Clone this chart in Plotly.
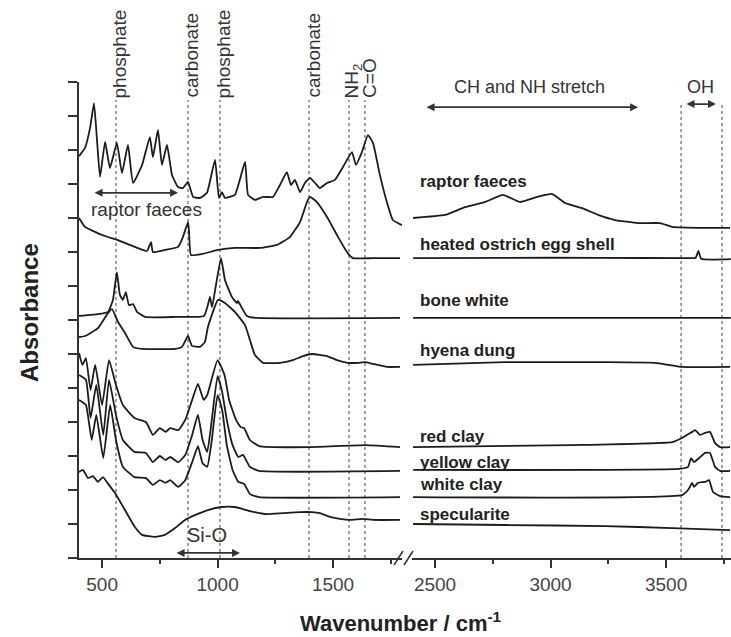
import plotly.graph_objects as go

# ---------------- data ----------------
raptor_l_wn = [400, 426, 448, 465, 478, 491, 513, 534, 564, 586, 612, 634, 673, 707, 720, 742, 759, 781, 803, 829,
               850, 872, 894, 924, 954, 989, 1006, 1019, 1032, 1075, 1119, 1132, 1162, 1197, 1240, 1270, 1300, 1318,
               1335, 1357, 1378, 1400, 1422, 1443, 1474, 1508, 1543, 1582, 1599, 1625, 1651, 1673, 1703, 1733, 1759, 1798]
raptor_l_abs = [11.82, 12.06, 12.65, 13.38, 12.29, 11.21, 12.24, 11.47, 12.21, 11.32, 12.15, 11.03, 11.56, 12.38, 11.79,
                12.59, 11.56, 12.15, 11.26, 10.91, 10.88, 11.06, 10.62, 10.59, 10.74, 11.71, 10.59, 10.76, 10.59, 10.68,
                11.65, 10.68, 10.53, 10.62, 10.62, 10.97, 11.35, 10.97, 11.12, 10.76, 11.03, 11.18, 11.03, 10.88, 11.03,
                11.12, 11.50, 11.94, 11.56, 11.94, 12.44, 12.21, 11.26, 10.47, 9.94, 9.79]
raptor_r_wn = [2405, 2543, 2630, 2716, 2794, 2868, 2942, 3006, 3063, 3136, 3206, 3279, 3379, 3474, 3526, 3669, 3777]
raptor_r_abs = [10.0, 10.09, 10.32, 10.47, 10.68, 10.47, 10.62, 10.71, 10.44, 10.29, 10.09, 9.94, 9.85, 9.85, 9.74, 9.71, 9.71]

ostrich_l_wn = [400, 426, 500, 569, 642, 694, 712, 720, 772, 829, 850, 872, 876, 885, 932, 1002, 1075, 1184, 1257, 1313,
                1357, 1387, 1400, 1430, 1474, 1517, 1560, 1586, 1673, 1790]
ostrich_l_abs = [10.0, 9.74, 9.5, 9.35, 9.15, 9.03, 9.29, 9.0, 9.06, 9.15, 9.44, 9.88, 9.65, 8.91, 8.94, 9.06, 9.12, 9.12,
                 9.21, 9.44, 9.88, 10.47, 10.62, 10.47, 10.03, 9.5, 9.0, 8.82, 8.82, 8.82]
ostrich_r_wn = [2405, 2800, 3200, 3600, 3628, 3640, 3652, 3780]
ostrich_r_abs = [8.82, 8.83, 8.83, 8.82, 8.83, 9.03, 8.8, 8.79]

bone_l_wn = [400, 491, 526, 547, 564, 577, 590, 603, 616, 634, 651, 686, 816, 941, 958, 967, 976, 993, 1015, 1032, 1062,
             1084, 1088, 1101, 1127, 1171, 1790]
bone_l_abs = [7.12, 7.18, 7.24, 7.59, 8.41, 7.74, 7.59, 7.82, 7.44, 7.47, 7.24, 7.09, 7.09, 7.12, 7.44, 7.68, 7.38, 8.03,
              8.82, 8.18, 7.68, 7.5, 7.56, 7.41, 7.12, 7.06, 7.06]
bone_r_wn = [2405, 3000, 3780]
bone_r_abs = [7.06, 7.06, 7.06]

hyena_l_wn = [400, 426, 482, 526, 543, 569, 599, 634, 673, 816, 846, 872, 889, 924, 945, 958, 1002, 1032, 1075, 1119, 1140,
              1162, 1197, 1270, 1326, 1370, 1409, 1474, 1517, 1564, 1608, 1638, 1673, 1733, 1790]
hyena_l_abs = [6.5, 6.53, 6.76, 7.21, 7.32, 6.94, 6.62, 6.21, 6.15, 6.15, 6.21, 6.53, 6.24, 6.21, 6.35, 6.79, 7.59, 7.5,
               7.24, 6.85, 6.41, 5.97, 5.74, 5.74, 5.82, 5.94, 6.0, 5.94, 5.82, 5.74, 5.74, 5.76, 5.71, 5.62, 5.62]
hyena_r_wn = [2405, 2803, 3236, 3452, 3569, 3777]
hyena_r_abs = [5.68, 5.76, 5.76, 5.74, 5.62, 5.62]

red_l_wn = [400, 415, 430, 450, 470, 500, 530, 560, 590, 640, 690, 720, 750, 775, 795, 830, 860, 890, 915, 940, 955, 1000,
            1030, 1050, 1080, 1100, 1115, 1140, 1180, 1400, 1640, 1790]
red_l_abs = [6.03, 5.68, 5.88, 4.94, 5.68, 4.5, 5.82, 5.09, 4.5, 4.12, 4.0, 3.62, 3.82, 3.71, 3.82, 3.76, 4.06, 4.65, 5.12,
             4.65, 4.79, 5.82, 5.38, 4.65, 4.06, 3.85, 3.82, 3.47, 3.29, 3.26, 3.32, 3.26]
red_r_wn = [2405, 3093, 3526, 3569, 3613, 3626, 3647, 3669, 3690, 3712, 3734, 3777]
red_r_abs = [3.26, 3.32, 3.41, 3.53, 3.71, 3.76, 3.62, 3.68, 3.71, 3.38, 3.26, 3.26]

yellow_l_wn = [400, 430, 450, 475, 505, 530, 560, 590, 640, 690, 720, 750, 775, 795, 830, 860, 890, 915, 935, 955, 975,
               1000, 1020, 1040, 1065, 1090, 1110, 1140, 1180, 1790]
yellow_l_abs = [5.38, 5.24, 4.12, 5.09, 3.62, 5.24, 4.21, 3.47, 3.12, 3.09, 2.82, 3.0, 2.88, 2.97, 2.82, 3.03, 3.62, 4.21,
                3.47, 3.12, 4.06, 5.35, 4.88, 4.06, 3.32, 2.97, 3.03, 2.68, 2.56, 2.56]
yellow_r_wn = [2405, 3557, 3595, 3608, 3621, 3643, 3669, 3690, 3712, 3734, 3777]
yellow_r_abs = [2.59, 2.62, 2.68, 2.94, 2.82, 2.94, 3.09, 3.09, 2.68, 2.56, 2.56]

white_l_wn = [400, 430, 455, 475, 505, 535, 560, 590, 640, 690, 720, 750, 775, 795, 830, 860, 890, 915, 935, 955, 975,
              1000, 1020, 1040, 1065, 1090, 1115, 1140, 1180, 1790]
white_l_abs = [4.65, 4.5, 3.47, 4.21, 2.94, 4.5, 3.47, 2.68, 2.38, 2.35, 2.15, 2.29, 2.21, 2.29, 2.09, 2.29, 2.82, 3.29,
               2.79, 2.68, 3.47, 4.79, 4.35, 3.32, 2.59, 2.24, 2.18, 1.88, 1.79, 1.79]
white_r_wn = [2405, 3569, 3595, 3613, 3621, 3638, 3669, 3686, 3703, 3734, 3777]
white_r_abs = [1.79, 1.85, 2.0, 2.21, 2.09, 2.21, 2.24, 2.29, 1.94, 1.82, 1.79]

spec_l_wn = [400, 417, 439, 461, 482, 504, 526, 556, 599, 642, 673, 729, 772, 816, 859, 902, 958, 1019, 1075, 1140, 1214,
             1283, 1357, 1409, 1443, 1487, 1530, 1573, 1629, 1673, 1790]
spec_l_abs = [2.53, 2.59, 2.35, 2.41, 2.24, 2.38, 2.18, 1.91, 1.41, 0.91, 0.68, 0.62, 0.68, 0.88, 1.12, 1.26, 1.41, 1.5,
              1.5, 1.38, 1.29, 1.32, 1.35, 1.35, 1.32, 1.21, 1.15, 1.12, 1.15, 1.12, 1.12]
spec_r_wn = [2405, 2803, 3236, 3526, 3777]
spec_r_abs = [1.0, 0.97, 0.94, 0.88, 0.82]

sample_names = ["raptor faeces", "heated ostrich egg shell", "bone white", "hyena dung",
                "red clay", "yellow clay", "white clay", "specularite"]
label_levels = [11.06, 9.21, 7.56, 6.09, 3.56, 2.82, 2.15, 1.29]

band_wn = [560, 872, 1010, 1396, 1569, 1638]
band_names = ["phosphate", "carbonate", "phosphate", "carbonate", "NH<sub>2</sub>", "C=O"]
oh_wn = [3565, 3742]

left_ticks = [500, 1000, 1500]
right_ticks = [2500, 3000, 3500]

spectra = [
    (raptor_l_wn, raptor_l_abs, raptor_r_wn, raptor_r_abs),
    (ostrich_l_wn, ostrich_l_abs, ostrich_r_wn, ostrich_r_abs),
    (bone_l_wn, bone_l_abs, bone_r_wn, bone_r_abs),
    (hyena_l_wn, hyena_l_abs, hyena_r_wn, hyena_r_abs),
    (red_l_wn, red_l_abs, red_r_wn, red_r_abs),
    (yellow_l_wn, yellow_l_abs, yellow_r_wn, yellow_r_abs),
    (white_l_wn, white_l_abs, white_r_wn, white_r_abs),
    (spec_l_wn, spec_l_abs, spec_r_wn, spec_r_abs),
]

# ---------------- figure ----------------
FONT = "Liberation Sans, Arial, Helvetica, sans-serif"
LINE = "#1c1c1c"
AX = "#333333"

fig = go.Figure()
for name, (lx, ly, rx, ry) in zip(sample_names, spectra):
    fig.add_trace(go.Scatter(x=lx, y=ly, mode="lines", name=name, xaxis="x", yaxis="y",
                             line=dict(color=LINE, width=1.8, shape="spline", smoothing=0.4),
                             showlegend=False, hoverinfo="skip"))
    fig.add_trace(go.Scatter(x=rx, y=ry, mode="lines", name=name, xaxis="x2", yaxis="y",
                             line=dict(color=LINE, width=1.8, shape="spline", smoothing=0.4),
                             showlegend=False, hoverinfo="skip"))

shapes = []
for wn in band_wn:
    shapes.append(dict(type="line", xref="x", yref="y", x0=wn, x1=wn, y0=0, y1=13.47, layer="below",
                       line=dict(color="#808080", width=1.5, dash="dot")))
for wn in oh_wn:
    shapes.append(dict(type="line", xref="x2", yref="y", x0=wn, x1=wn, y0=0, y1=13.32, layer="below",
                       line=dict(color="#808080", width=1.5, dash="dot")))
# axis break marks
for x0 in (0.4831, 0.4985):
    shapes.append(dict(type="line", xref="paper", yref="paper", x0=x0, x1=x0 + 0.0138,
                       y0=-0.0147, y1=0.0147, line=dict(color=AX, width=1.5)))

ann = []
for wn, txt in zip(band_wn, band_names):
    ann.append(dict(x=wn, y=13.47, xref="x", yref="y", text=txt, textangle=-90, showarrow=False,
                    xanchor="center", yanchor="bottom", xshift=4,
                    font=dict(family=FONT, size=19, color="#333")))

def arrow(xref, x0, x1, y):
    return dict(x=x1, y=y, ax=x0, ay=y, xref=xref, yref="y", axref=xref, ayref="y", text="",
                showarrow=True, arrowside="end+start", arrowhead=2, startarrowhead=2,
                arrowsize=1, startarrowsize=1, arrowwidth=1.6, arrowcolor=AX)

ann.append(dict(x=2911, y=13.85, xref="x2", yref="y", text="CH and NH stretch", showarrow=False,
                font=dict(family=FONT, size=18, color="#333")))
ann.append(arrow("x2", 2457, 3379, 13.26))
ann.append(dict(x=3647, y=13.85, xref="x2", yref="y", text="OH", showarrow=False,
                font=dict(family=FONT, size=18, color="#333")))
ann.append(arrow("x2", 3582, 3716, 13.35))
ann.append(dict(x=692, y=10.24, xref="x", yref="y", text="raptor faeces", showarrow=False,
                font=dict(family=FONT, size=19, color="#333")))
ann.append(arrow("x", 461, 829, 10.74))
ann.append(dict(x=954, y=0.68, xref="x", yref="y", text="Si-O", showarrow=False,
                font=dict(family=FONT, size=20, color="#333")))
ann.append(arrow("x", 816, 1097, 0.15))

for name, lv in zip(sample_names, label_levels):
    ann.append(dict(x=2426, y=lv, xref="x2", yref="y", text="<b>" + name + "</b>", showarrow=False,
                    xanchor="left", yanchor="middle", font=dict(family=FONT, size=17, color="#222")))

ann.append(dict(x=0.494, y=-0.134, xref="paper", yref="paper", text="<b>Wavenumber / cm<sup>-1</sup></b>",
                showarrow=False, xanchor="center", yanchor="middle", font=dict(family=FONT, size=22, color="#222")))
ann.append(dict(x=-0.075, y=0.515, xref="paper", yref="paper", text="<b>Absorbance</b>", textangle=-90,
                showarrow=False, xanchor="center", yanchor="middle", font=dict(family=FONT, size=24, color="#222")))

xcommon = dict(showline=True, linecolor=AX, linewidth=2, ticks="outside", ticklen=8, tickwidth=1.5,
               tickcolor=AX, showgrid=False, zeroline=False, anchor="y",
               tickfont=dict(family=FONT, size=19, color="#444"),
               minor=dict(ticks="outside", ticklen=4, tickwidth=1.5, tickcolor=AX, dtick=250, tick0=0))

fig.update_layout(
    width=731, height=637,
    margin=dict(l=79, r=0, t=82, b=79),
    paper_bgcolor="white", plot_bgcolor="white",
    xaxis=dict(domain=[0, 0.4959], range=[400, 1800], tickvals=left_ticks, **xcommon),
    xaxis2=dict(domain=[0.5106, 1.0], range=[2400, 3781], tickvals=right_ticks, **xcommon),
    yaxis=dict(range=[0, 14], dtick=1, tick0=0, showticklabels=False, ticks="outside", ticklen=9,
               tickwidth=1.5, tickcolor=AX, showline=True, linecolor=AX, linewidth=2,
               showgrid=False, zeroline=False),
    shapes=shapes, annotations=ann, showlegend=False,
)

fig.write_html("out.html")
